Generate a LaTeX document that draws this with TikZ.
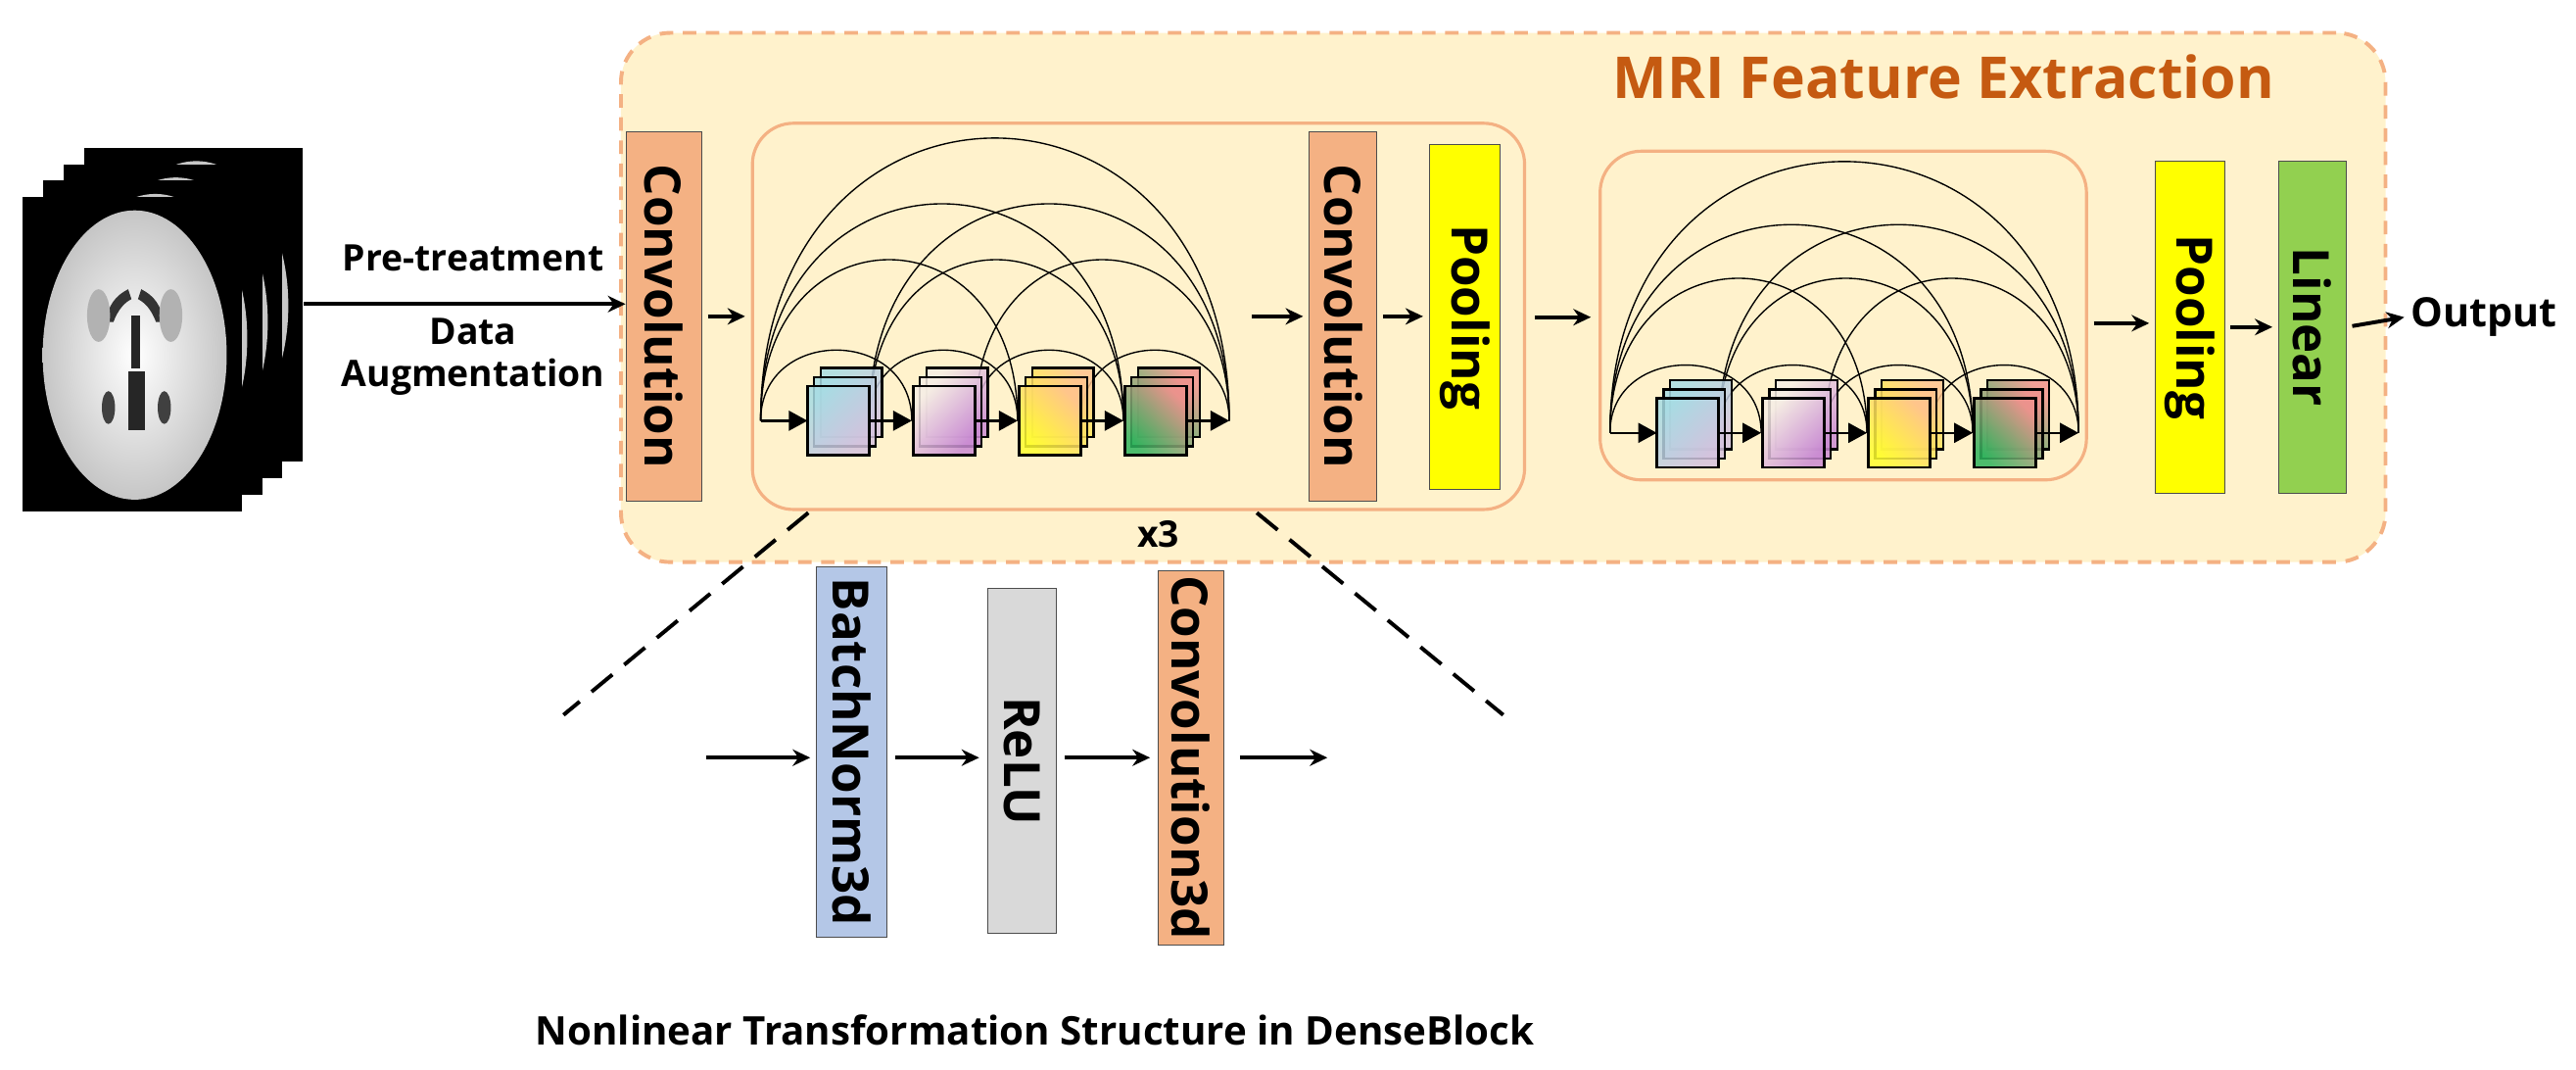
\documentclass[tikz,border=0pt]{standalone}
\usepackage{fontspec}
\setmainfont{Open Sans}
\usepackage{graphicx}
\usetikzlibrary{arrows.meta,calc}

\definecolor{convc}{HTML}{F4B183}
\definecolor{poolc}{HTML}{FFFF00}
\definecolor{linc}{HTML}{92D050}
\definecolor{bnc}{HTML}{B4C7E7}
\definecolor{reluc}{HTML}{D9D9D9}
\definecolor{bgc}{HTML}{FFF2CC}
\definecolor{titlec}{HTML}{C55A11}
\definecolor{s1a}{HTML}{A8DCE4}\definecolor{s1b}{HTML}{D4C2DE}
\definecolor{s2a}{HTML}{F6EEE4}\definecolor{s2b}{HTML}{C98AD3}
\definecolor{s3a}{HTML}{FFFF2E}\definecolor{s3b}{HTML}{FFC48E}
\definecolor{s4a}{HTML}{2DB35C}\definecolor{s4b}{HTML}{F0928E}

\tikzset{
  blk/.style={draw=black!70, line width=0.5pt, inner sep=0pt, font=\bfseries\fontsize{26}{30}\selectfont},
  arr/.style={-{Stealth[length=0.32cm,width=0.3cm]}, line width=2pt},
  flow/.style={-{Triangle[length=0.34cm,width=0.36cm]}, line width=1.2pt},
  link/.style={line width=0.7pt},
  sq/.style={draw=black, line width=1.3pt, fill opacity=0.85},
  lbl/.style={font=\bfseries\fontsize{19}{22}\selectfont},
}

% dense block: #1 name prefix, #2 arc height scale
\newcommand{\denseblk}[2]{%
  \coordinate (#1o0) at (0,0);
  \foreach \k in {1,...,4}{
    \pgfmathsetmacro\xi{92+64.4*(\k-1)}
    \pgfmathsetmacro\xo{\xi-26}
    \coordinate (#1i\k) at (\xi,0);
    \coordinate (#1o\k) at (\xo,0);
  }
  \foreach \j in {0,...,3}{
    \pgfmathtruncatemacro\jj{\j+1}
    \foreach \k in {\jj,...,4}{
      \pgfmathsetmacro\hh{#2*4/3*{43,98,132,172}[\k-\j-1]}
      \draw[link] (#1o\j) .. controls +(0,-\hh) and +(0,-\hh) .. (#1i\k);
    }
  }
  \foreach \k/\ca/\cb/\an in {1/s1a/s1b/45,2/s2a/s2b/45,3/s3a/s3b/135,4/s4a/s4b/135}{
    \pgfmathsetmacro\xo{66+64.4*(\k-1)}
    \foreach \m in {2,1,0}
      \draw[sq, left color=\ca, right color=\cb, shading angle=\an]
        (\xo-37.5+4*\m,-21-5.5*\m) rectangle ++(37.5,42);
  }
  \draw[flow] (#1o0) -- ($(#1o1)+(-37.5,0)$);
  \foreach \k in {1,...,4}
    \draw[flow] (#1o\k) -- (#1i\k);
}

\begin{document}
\begin{tikzpicture}[x=0.03cm,y=-0.03cm]
\useasboundingbox (0,0) rectangle (1568,651);

% MRI slices
\foreach \s in {3,2,1,0}{
  \begin{scope}[shift={(12.5*\s,-10*\s)}]
    \fill[black] (14,120) rectangle (147,311);
    \begin{scope}
      \clip (14,120) rectangle (147,311);
      \shade[inner color=white, outer color=gray!45] (82,216) ellipse [x radius=56, y radius=88];
    \end{scope}
  \end{scope}
}
\coordinate (mri) at (185,185);
\fill[gray!40!black] (78,176) .. controls (70,180) and (66,186) .. (64,196) -- (69,196) .. controls (72,188) and (76,184) .. (80,182) -- cycle;
\fill[gray!40!black] (86,176) .. controls (94,180) and (98,186) .. (100,196) -- (95,196) .. controls (92,188) and (88,184) .. (84,182) -- cycle;
\fill[gray!30!black] (80,192) rectangle (85,224);
\fill[gray!30!black] (78,226) rectangle (88,262);
\fill[gray!50!black] (66,248) ellipse [x radius=4, y radius=10];
\fill[gray!50!black] (100,248) ellipse [x radius=4, y radius=10];
\fill[gray!60] (60,192) ellipse [x radius=7, y radius=16];
\fill[gray!60] (104,192) ellipse [x radius=7, y radius=16];

% outer box
\node[draw=convc, dashed, dash pattern=on 7pt off 5pt, line width=2pt, fill=bgc, rounded corners=0.9cm,
      minimum width=32.22cm, minimum height=9.66cm] (feat) at (915,181) {};
\node[text=titlec, font=\bfseries\fontsize{30}{34}\selectfont] (title) at (1183,47) {MRI Feature Extraction};

% dense blocks
\node[draw=convc, line width=1.6pt, fill=bgc, rounded corners=0.75cm,
      minimum width=14.1cm, minimum height=7.05cm] (db1) at (693,192.5) {};
\node[draw=convc, line width=1.6pt, fill=bgc, rounded corners=0.75cm,
      minimum width=8.88cm, minimum height=6cm] (db2) at (1122,192) {};
\begin{scope}[shift={(463,256)}]
  \denseblk{a}{1}
\end{scope}
\begin{scope}[shift={(980,263.4)}]
  \denseblk{b}{0.96}
\end{scope}
\node[lbl] (rep) at (705,325) {x3};

% layers
\node[blk, fill=convc, minimum width=1.38cm, minimum height=6.75cm] (conv1) at (404,192.5) {\rotatebox{-90}{Convolution}};
\node[blk, fill=convc, minimum width=1.23cm, minimum height=6.75cm] (conv2) at (817.5,192.5) {\rotatebox{-90}{Convolution}};
\node[blk, fill=poolc, minimum width=1.29cm, minimum height=6.3cm] (pool1) at (891.5,193) {\rotatebox{-90}{Pooling}};
\node[blk, fill=poolc, minimum width=1.26cm, minimum height=6.06cm] (pool2) at (1333,199) {\rotatebox{-90}{Pooling}};
\node[blk, fill=linc, minimum width=1.23cm, minimum height=6.06cm] (lin) at (1407.5,199) {\rotatebox{-90}{Linear}};
\node[lbl, font=\bfseries\fontsize{21}{24}\selectfont] (out) at (1512,193) {Output};

\node[lbl] (pre) at (288,157) {Pre-treatment};
\node[lbl, align=center] (aug) at (288,217) {Data\\Augmentation};

\coordinate (d1out) at (762,192.5);
\draw[arr] (mri) -- (conv1.west |- mri);
\draw[arr, shorten <=3pt, shorten >=3pt] (conv1.east) -- (db1.west);
\draw[arr] (d1out) -- ([xshift=-3pt]conv2.west);
\draw[arr, shorten <=3pt, shorten >=3pt] (conv2.east) -- (pool1.west |- conv2.east);
\draw[arr, shorten <=18pt, shorten >=4pt] (pool1.east) -- (db2.west |- pool1.east);
\draw[arr, shorten <=3pt, shorten >=3pt] ([yshift=-4pt]db2.east) -- ([yshift=-4pt]pool2.west |- db2.east);
\draw[arr, shorten <=3pt, shorten >=3pt] (pool2.east) -- (lin.west);
\draw[arr, shorten <=3pt] (lin.east) -- (out.west);

% zoom lines
\coordinate (zl0) at (492,312);
\coordinate (zl1) at (343,435);
\coordinate (zr0) at (765,312);
\coordinate (zr1) at (915,435);
\draw[line width=2pt, dash pattern=on 14pt off 8pt] (zl0) -- (zl1);
\draw[line width=2pt, dash pattern=on 14pt off 8pt] (zr0) -- (zr1);

% nonlinear transformation
\node[blk, fill=bnc, minimum width=1.29cm, minimum height=6.75cm] (bn) at (518.5,457.5) {\rotatebox{-90}{BatchNorm3d}};
\node[blk, fill=reluc, minimum width=1.26cm, minimum height=6.3cm] (relu) at (622,463) {\rotatebox{-90}{ReLU}};
\node[blk, fill=convc, minimum width=1.2cm, minimum height=6.84cm] (conv3) at (725,461) {\rotatebox{-90}{Convolution3d}};
\coordinate (nin) at (430,461);
\coordinate (nout) at (808,461);
\draw[arr] (nin) -- ([xshift=-3pt]bn.west |- nin);
\draw[arr, shorten <=4pt, shorten >=4pt] (bn.east |- nin) -- (relu.west |- nin);
\draw[arr, shorten <=4pt, shorten >=4pt] (relu.east |- nin) -- (conv3.west |- nin);
\draw[arr, shorten <=8pt] (conv3.east |- nin) -- (nout);
\node[lbl, font=\bfseries\fontsize{20.5}{24}\selectfont] (cap) at (630,627) {Nonlinear Transformation Structure in DenseBlock};
\end{tikzpicture}
\end{document}
